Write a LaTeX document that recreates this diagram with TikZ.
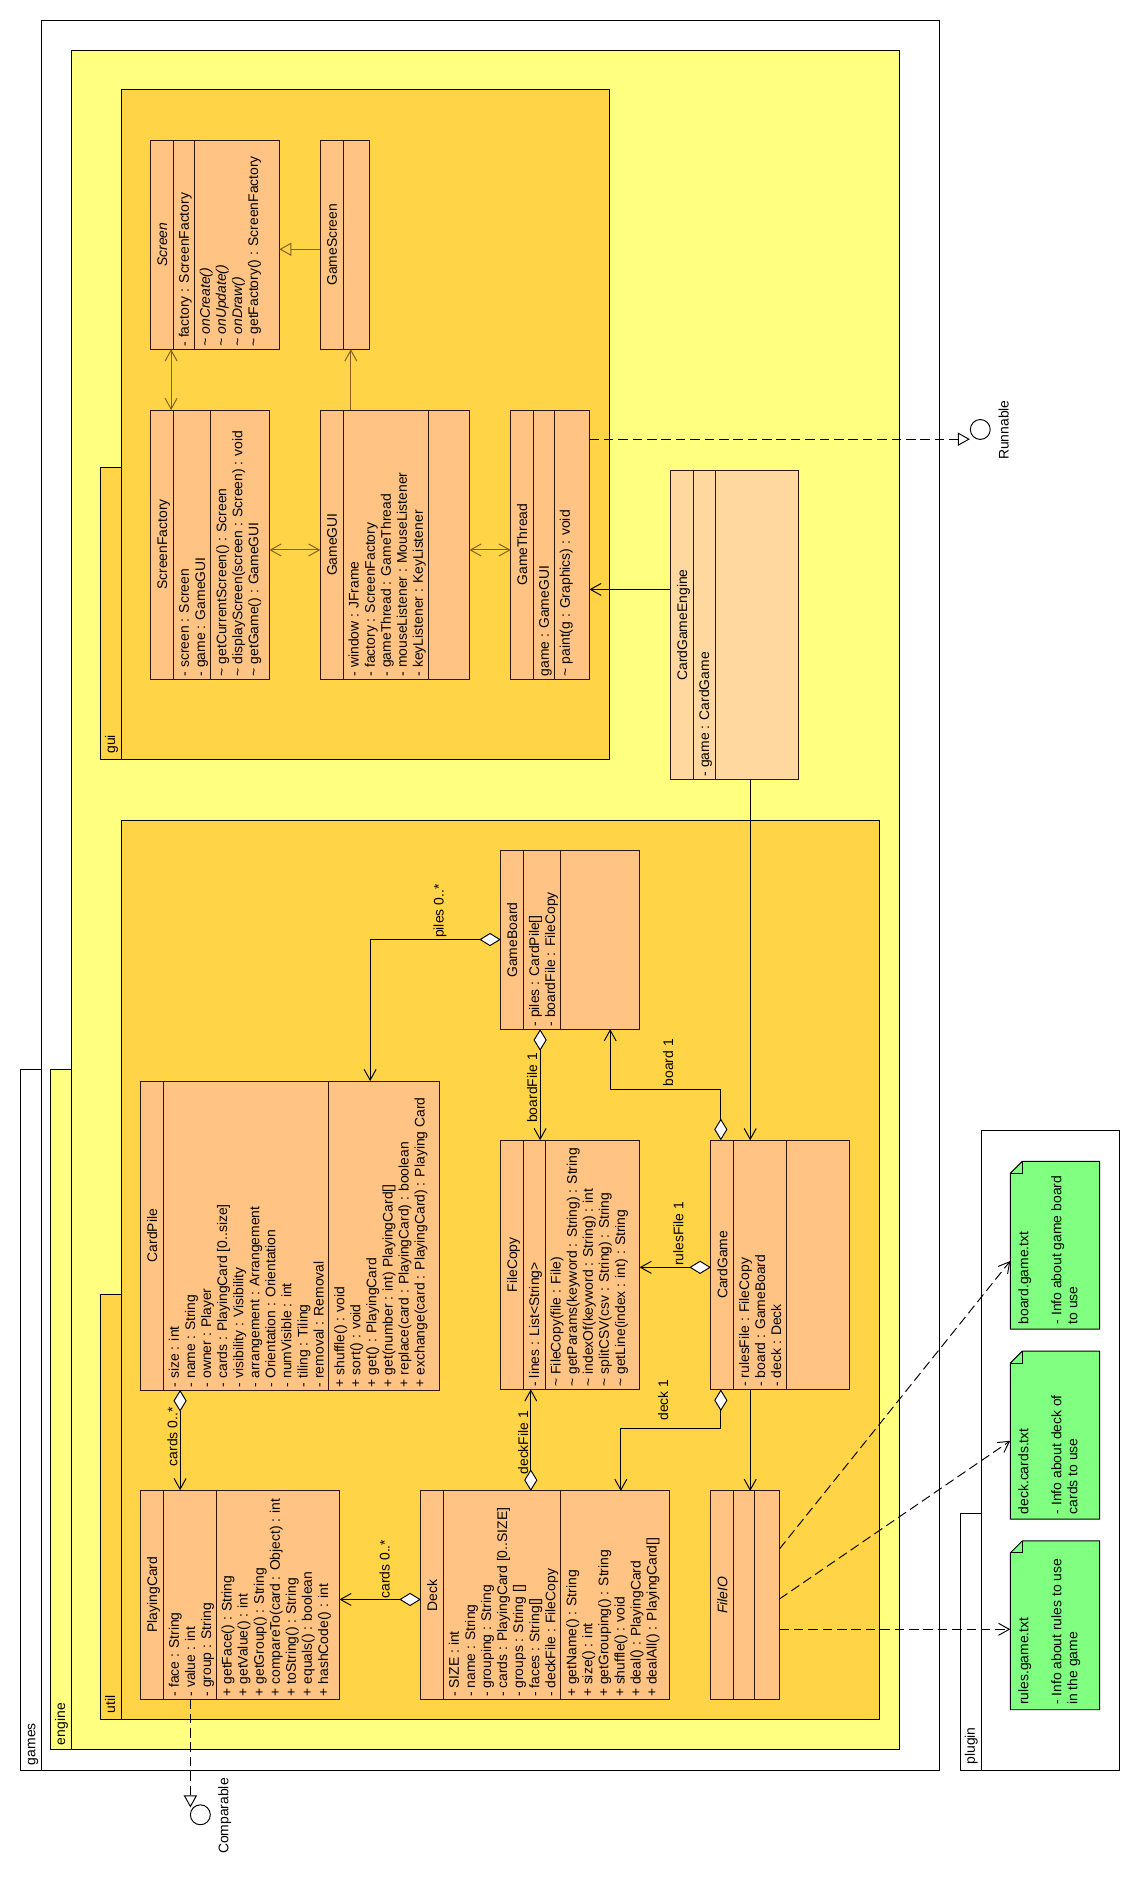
\documentclass[tikz,border=0pt]{standalone}
\usepackage{fontspec}
\setmainfont{Liberation Sans}
\usetikzlibrary{arrows.meta,calc}
\definecolor{enginefill}{RGB}{255,255,128}
\definecolor{pkgfill}{RGB}{255,212,70}
\definecolor{classfill}{RGB}{255,196,132}
\definecolor{mainfill}{RGB}{255,216,160}
\definecolor{notefill}{RGB}{128,255,128}
\definecolor{guiline}{RGB}{128,96,32}
\definecolor{classedge}{RGB}{50,20,10}
\newcommand{\umlfont}{\fontsize{11.6}{13.4}\selectfont}
\newcommand{\tld}{\textasciitilde}
\newcommand{\umlclass}[9]{%
  \node[classbox, minimum width=#3, minimum height=#4] (#1) at (#2) {};
  \draw[partline] ($(#1.north west)+(#5,0)$) -- ($(#1.south west)+(#5,0)$);
  \draw[partline] ($(#1.north west)+(#5+#6,0)$) -- ($(#1.south west)+(#5+#6,0)$);
  \node[classname] at ($(#1.west)+(#5/2+4.2,0)$) {#7};
  \node[members] at ($(#1.south west)+(#5+3.2,2)$) {\strut#8};
  \node[members] at ($(#1.south west)+(#5+#6+3.2,2)$) {\strut#9};
}
\newcommand{\umlnote}[4]{%
  \node[notebox, minimum height=#3] (#1) at (#2) {};
  \filldraw[draw=black, fill=notefill] ($(#1.north west)+(0,-10)$) -- ($(#1.north west)+(10,0)$)
    -- (#1.north east) -- (#1.south east) -- (#1.south west) -- cycle;
  \draw ($(#1.north west)+(0,-10)$) -- ($(#1.north west)+(10,-10)$) -- ($(#1.north west)+(10,0)$);
  \node[members] at ($(#1.south west)+(5.4,3.7)$) {\strut#4};
}
\begin{document}
\begin{tikzpicture}[x=1pt,y=1pt,line width=0.8pt,
    >={Straight Barb[length=9pt,width=10pt]},
    classbox/.style={draw=classedge,fill=classfill,anchor=north west,inner sep=0pt,outer sep=0pt},
    partline/.style={draw=classedge},
    classname/.style={rotate=90,anchor=base,inner sep=0pt,font=\umlfont},
    members/.style={rotate=90,anchor=north west,align=left,inner sep=0pt,font=\umlfont},
    pkg/.style={draw=black},
    pkglbl/.style={rotate=90,anchor=base west,inner sep=0pt,font=\umlfont},
    lbl/.style={rotate=90,anchor=base,inner sep=0pt,font=\umlfont},
    guiassoc/.style={draw=guiline},
    assoc/.style={draw=black},
    agg/.style={draw=black,{Diamond[fill=white,length=18pt,width=11pt]}->},
    realize/.style={draw=black,dash pattern=on 8pt off 4pt,-{Triangle[open,length=10pt,width=11pt]}},
    depend/.style={draw=black,dash pattern=on 8pt off 4pt,->},
    iface/.style={circle,draw=black,fill=white,minimum size=16.6pt,inner sep=0pt},
    notebox/.style={minimum width=74.5pt,anchor=north west,inner sep=0pt,outer sep=0pt}]
  \useasboundingbox (0,0) rectangle (951,-1568);
  % packages
  \draw[pkg] (34.8,-17.2) rectangle (783.6,-1476.3);
  \draw[pkg] (17.2,-892) rectangle (34.8,-1476.3);
  \node[pkglbl] (gameslbl) at (29.5,-1472.5) {games};
  \filldraw[pkg,fill=enginefill] (59.5,-42.3) rectangle (750.3,-1459.5);
  \filldraw[pkg,fill=enginefill] (42.3,-892) rectangle (59.5,-1459.5);
  \node[pkglbl] (enginelbl) at (54.4,-1455.8) {engine};
  \filldraw[pkg,fill=pkgfill] (101.2,-75) rectangle (508.3,-633.2);
  \filldraw[pkg,fill=pkgfill] (84,-390) rectangle (101.2,-633.2);
  \node[pkglbl] (guilbl) at (96.1,-629) {gui};
  \filldraw[pkg,fill=pkgfill] (101.2,-684) rectangle (733.6,-1434.3);
  \filldraw[pkg,fill=pkgfill] (84,-1080) rectangle (101.2,-1434.3);
  \node[pkglbl] (utillbl) at (96.1,-1429.3) {util};
  \draw[pkg] (818.4,-942.5) rectangle (933.8,-1476.3);
  \draw[pkg] (800.9,-1262) rectangle (818.4,-1476.3);
  \node[pkglbl] (pluginlbl) at (813.1,-1472) {plugin};
  % gui
  \umlclass{Screen}{125.7,-117}{107.3}{174.3}{18.9}{17.5}{\textit{Screen}}{- factory : ScreenFactory}{\textit{\tld{} onCreate()}\\\textit{\tld{} onUpdate()}\\\textit{\tld{} onDraw()}\\\tld{} getFactory() : ScreenFactory}
  \umlclass{GameScreen}{267.2,-117}{40.9}{174.3}{19}{0}{GameScreen}{}{}
  \umlclass{ScreenFactory}{125.7,-342}{99}{224.4}{18.9}{31.2}{ScreenFactory}{- screen : Screen\\- game : GameGUI}{\tld{} getCurrentScreen() : Screen\\\tld{} displayScreen(screen : Screen) : void\\\tld{} getGame() : GameGUI}
  \umlclass{GameGUI}{267.2,-342}{124.3}{224.4}{19}{71.1}{GameGUI}{- window : JFrame\\- factory : ScreenFactory\\- gameThread : GameThread\\- mouseListener : MouseListener\\- keyListener : KeyListener}{}
  \umlclass{GameThread}{426,-342}{65.6}{224.4}{18.9}{17.5}{GameThread}{game : GameGUI}{\tld{} paint(g : Graphics) : void}
  \begin{scope}[classbox/.append style={fill=mainfill}]
    \umlclass{CardGameEngine}{559.2,-392.7}{106.8}{257.2}{19.2}{18.1}{CardGameEngine}{- game : CardGame}{}
  \end{scope}
  % util
  \umlclass{GameBoard}{417.7,-709.7}{115.7}{148.7}{18.9}{31.1}{GameBoard}{- piles : CardPile[]\\- boardFile : FileCopy}{}
  \umlclass{CardPile}{117.4,-901.7}{249.1}{257.6}{18.9}{137.9}{CardPile}{- size : int\\- name : String\\- owner : Player\\- cards : PlayingCard [0..size]\\- visibility : Visibility\\- arrangement : Arrangement\\- Orientation : Orientation\\- numVisible : int\\- tiling : Tiling\\- removal : Removal}{+ shuffle() : void\\+ sort() : void\\+ get() : PlayingCard\\+ get(number : int) PlayingCard[]\\+ replace(card : PlayingCard) : boolean\\+ exchange(card : PlayingCard) : Playing Card}
  \umlclass{FileCopy}{417.7,-950.9}{115.7}{207.9}{18.9}{18.1}{FileCopy}{- lines : List<String>}{\tld{} FileCopy(file : File)\\\tld{} getParams(keyword : String) : String\\\tld{} indexOf(keyword : String) : int\\\tld{} splitCSV(csv : String) : String\\\tld{} getLine(index : int) : String}
  \umlclass{CardGame}{592.9,-951}{115.6}{207.9}{18.9}{44.4}{CardGame}{- rulesFile : FileCopy\\- board : GameBoard\\- deck : Deck}{}
  \umlclass{PlayingCard}{117.4,-1242.9}{165.7}{174.3}{18.9}{43.9}{PlayingCard}{- face : String\\- value : int\\- group : String}{+ getFace() : String\\+ getValue() : int\\+ getGroup() : String\\+ compareTo(card : Object) : int\\+ toString() : String\\+ equals() : boolean\\+ hashCode() : int}
  \umlclass{Deck}{351,-1243.5}{207.4}{174.2}{18.8}{97.9}{Deck}{- SIZE : int\\- name : String\\- grouping : String\\- cards : PlayingCard [0..SIZE]\\- groups : String []\\- faces : String[]\\- deckFile : FileCopy}{+ getName() : String\\+ size() : int\\+ getGrouping() : String\\+ shuffle() : void\\+ deal() : PlayingCard\\+ dealAll() : PlayingCard[]}
  \umlclass{FileIO}{592.9,-1243.5}{57.2}{173.9}{18.9}{17.5}{\textit{FileIO}}{}{}
  % plugin
  \umlnote{boardtxt}{842.6,-968.6}{140}{board.game.txt\\[14pt]- Info about game board\\to use}
  \umlnote{decktxt}{842.6,-1126.9}{140.1}{deck.cards.txt\\[14pt]- Info about deck of\\cards to use}
  \umlnote{rulestxt}{842.6,-1285.2}{140.8}{rules.game.txt\\[14pt]- Info about rules to use\\in the game}
  % interfaces
  \node[iface] (Runnable) at (817.6,-358.2) {};
  \node[lbl] (runnablelbl) at (841.2,-358.8) {Runnable};
  \node[iface] (Comparable) at (167.1,-1513.6) {};
  \node[lbl] (comparablelbl) at (190.5,-1514.7) {Comparable};
  % connectors
  \draw[guiassoc,<->] (Screen.south -| 142.7,0) -- (ScreenFactory.north -| 142.7,0);
  \draw[guiassoc,-{Triangle[open,length=10pt,width=11pt]}] (GameScreen.west |- 0,-207.9) -- (Screen.east |- 0,-207.9);
  \draw[guiassoc,->] (GameGUI.north -| 292.6,0) -- (GameScreen.south -| 292.6,0);
  \draw[guiassoc,<->] (ScreenFactory.east |- 0,-458.7) -- (GameGUI.west |- 0,-458.7);
  \draw[guiassoc,<->] (GameGUI.east |- 0,-458.7) -- (GameThread.west |- 0,-458.7);
  \draw[realize] (GameThread.east |- 0,-366.3) -- (Runnable.west |- 0,-366.3);
  \draw[assoc,->] (CardGameEngine.west |- 0,-491.6) -- (GameThread.east |- 0,-491.6);
  \draw[assoc,->] (CardGameEngine.south -| 625.7,0) -- (CardGame.north -| 625.7,0);
  \draw[agg] (GameBoard.west |- 0,-783.6) -| (CardPile.north -| 308.7,0);
  \node[lbl] (pileslbl) at (370,-760) {piles 0..*};
  \draw[agg] (GameBoard.south -| 450.5,0) -- (FileCopy.north -| 450.5,0);
  \node[lbl] (boardfilelbl) at (448,-907.4) {boardFile 1};
  \draw[agg] (Deck.north -| 442.7,0) -- (FileCopy.south -| 442.7,0);
  \node[lbl] (deckfilelbl) at (440.5,-1203.3) {deckFile 1};
  \draw[agg] (CardPile.south -| 150.2,0) -- (PlayingCard.north -| 150.2,0);
  \node[lbl] (pilecardslbl) at (148,-1198.4) {cards 0..*};
  \draw[agg] (Deck.west |- 0,-1334) -- (PlayingCard.east |- 0,-1334);
  \node[lbl] (deckcardslbl) at (325,-1308.7) {cards 0..*};
  \draw[agg] (CardGame.north -| 601.2,0) -- (601.2,-908.8) -| (GameBoard.south -| 508.9,0);
  \node[lbl] (boardlbl) at (561.5,-886.4) {board 1};
  \draw[agg] (CardGame.west |- 0,-1057) -- (FileCopy.east |- 0,-1057);
  \node[lbl] (ruleslbl) at (570,-1029) {rulesFile 1};
  \draw[assoc,->] (CardGame.south -| 625.7,0) -- (FileIO.north -| 625.7,0);
  \draw[agg] (CardGame.south -| 601.2,0) -- (601.2,-1191.8) -| (Deck.north -| 517.8,0);
  \node[lbl] (decklbl) at (557.3,-1167.8) {deck 1};
  \draw[depend] (FileIO.east |- 0,-1358.9) -- (rulestxt.west |- 0,-1358.9);
  \draw[depend] (FileIO.east |- 0,-1333.6) -- (decktxt.west |- 0,-1201.7);
  \draw[depend] (FileIO.east |- 0,-1291.9) -- (boardtxt.west |- 0,-1051.7);
  \draw[realize] (PlayingCard.south -| 158.8,0) -- (Comparable.north west -| 158.8,0);
\end{tikzpicture}
\end{document}
